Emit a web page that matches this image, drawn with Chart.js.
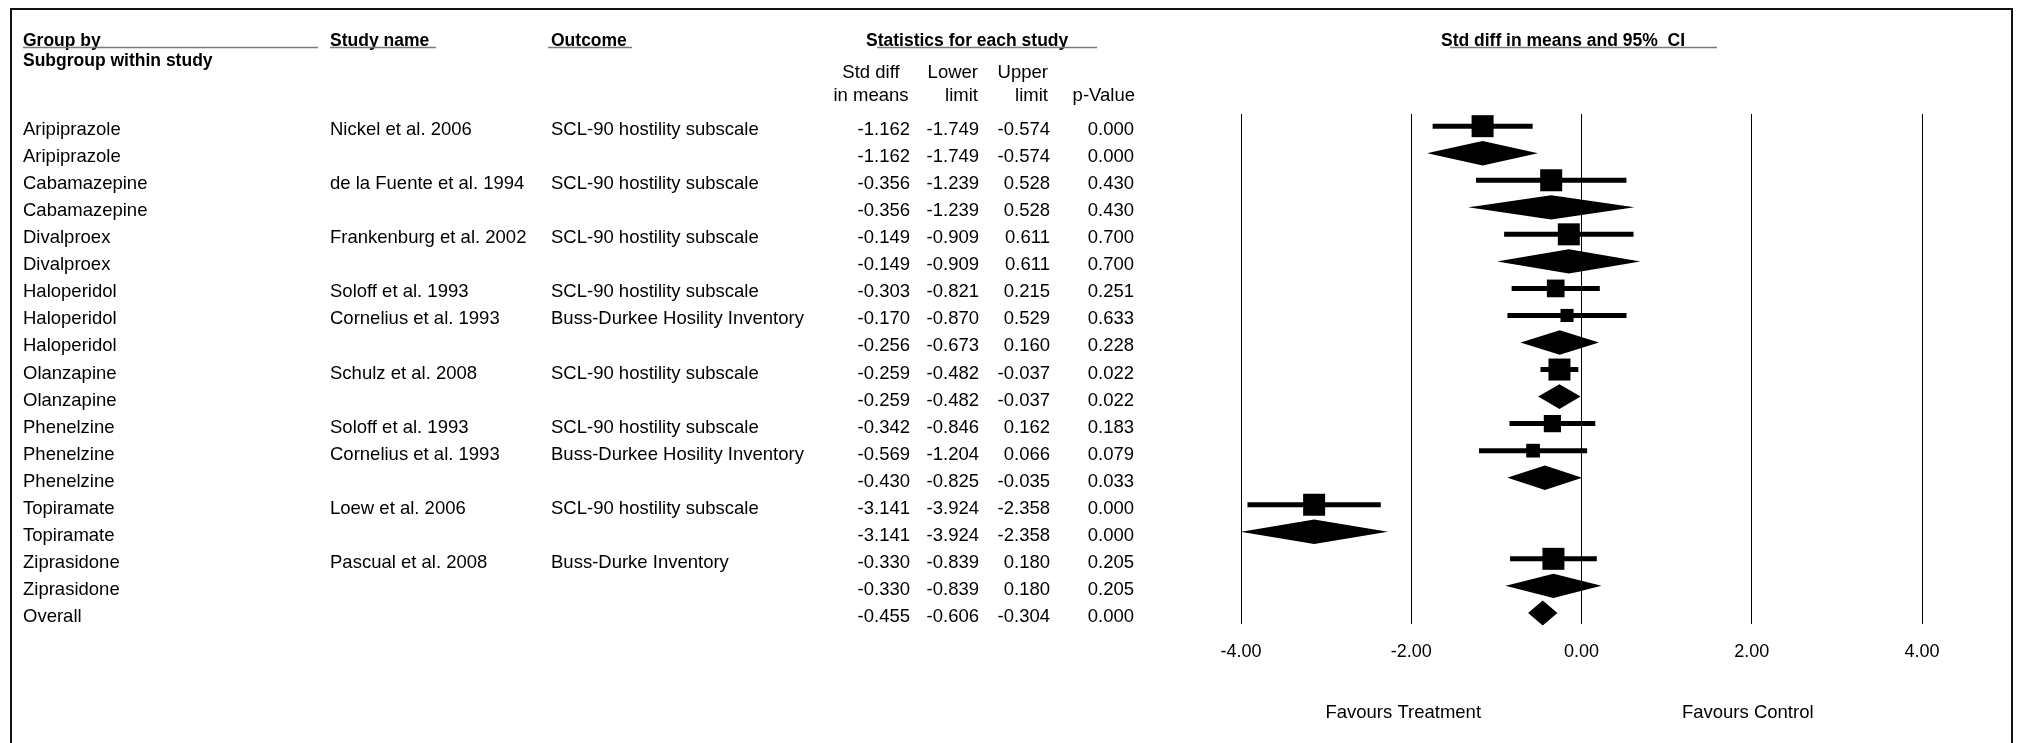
<!DOCTYPE html>
<html>
<head>
<meta charset="utf-8">
<script src="https://cdn.jsdelivr.net/npm/chart.js@4.4.1/dist/chart.umd.min.js"></script>
<style>
  html, body { margin: 0; padding: 0; background: #fff; }
  canvas { display: block; }
</style>
</head>
<body>
<canvas id="forest" width="2018" height="743"></canvas>
<script>
// one entry per row, top to bottom
const groupNames = ['Aripiprazole', 'Aripiprazole', 'Cabamazepine', 'Cabamazepine', 'Divalproex', 'Divalproex',
  'Haloperidol', 'Haloperidol', 'Haloperidol', 'Olanzapine', 'Olanzapine', 'Phenelzine', 'Phenelzine', 'Phenelzine',
  'Topiramate', 'Topiramate', 'Ziprasidone', 'Ziprasidone', 'Overall'];
const studyNames = ['Nickel et al. 2006', '', 'de la Fuente et al. 1994', '', 'Frankenburg et al. 2002', '',
  'Soloff et al. 1993', 'Cornelius et al. 1993', '', 'Schulz et al. 2008', '', 'Soloff et al. 1993', 'Cornelius et al. 1993', '',
  'Loew et al. 2006', '', 'Pascual et al. 2008', '', ''];
const outcomes = ['SCL-90 hostility subscale', '', 'SCL-90 hostility subscale', '', 'SCL-90 hostility subscale', '',
  'SCL-90 hostility subscale', 'Buss-Durkee Hosility Inventory', '', 'SCL-90 hostility subscale', '',
  'SCL-90 hostility subscale', 'Buss-Durkee Hosility Inventory', '', 'SCL-90 hostility subscale', '',
  'Buss-Durke Inventory', '', ''];
const effect = [-1.162, -1.162, -0.356, -0.356, -0.149, -0.149, -0.303, -0.170, -0.256, -0.259, -0.259,
  -0.342, -0.569, -0.430, -3.141, -3.141, -0.330, -0.330, -0.455];
const lower = [-1.749, -1.749, -1.239, -1.239, -0.909, -0.909, -0.821, -0.870, -0.673, -0.482, -0.482,
  -0.846, -1.204, -0.825, -3.924, -3.924, -0.839, -0.839, -0.606];
const upper = [-0.574, -0.574, 0.528, 0.528, 0.611, 0.611, 0.215, 0.529, 0.160, -0.037, -0.037,
  0.162, 0.066, -0.035, -2.358, -2.358, 0.180, 0.180, -0.304];
const pValues = [0.000, 0.000, 0.430, 0.430, 0.700, 0.700, 0.251, 0.633, 0.228, 0.022, 0.022,
  0.183, 0.079, 0.033, 0.000, 0.000, 0.205, 0.205, 0.000];
// relative weight within subgroup (%); null = summary row, drawn as a diamond
const weights = [100, null, 100, null, 100, null, 64.6, 35.4, null, 100, null, 61.3, 38.7, null, 100, null, 100, null, null];
const tickValues = [-4, -2, 0, 2, 4];

const FONT = "'Liberation Sans', Arial, sans-serif";
const MAX_SQUARE = 22; // px side of a 100% weight square
const DIAMOND_HALF = 11;

Chart.defaults.font.family = FONT;
Chart.defaults.color = '#000';

// CI line for every single study
const ciDatasets = [];
weights.forEach((w, i) => {
  if (w === null) return;
  ciDatasets.push({
    data: [{ x: lower[i], y: i }, { x: upper[i], y: i }],
    showLine: true,
    borderColor: '#000',
    borderWidth: 5,
    borderCapStyle: 'butt',
    pointRadius: 0,
    clip: false,
  });
});

// weighted squares
const squarePoints = [];
weights.forEach((w, i) => {
  if (w !== null) squarePoints.push({ x: effect[i], y: i, w: w });
});
const squareDataset = {
  data: squarePoints,
  pointStyle: 'rect',
  pointRadius: (c) => (MAX_SQUARE * Math.sqrt(c.raw.w / 100)) / Math.SQRT2,
  backgroundColor: '#000',
  borderWidth: 0,
  clip: false,
};

// summary diamonds
const diamondPlugin = {
  id: 'diamonds',
  afterDatasetsDraw(chart) {
    const { ctx } = chart;
    const xs = chart.scales.x;
    const ys = chart.scales.y;
    ctx.save();
    ctx.fillStyle = '#000';
    ctx.strokeStyle = '#000';
    ctx.lineWidth = 2.3;
    ctx.lineJoin = 'miter';
    ctx.miterLimit = 10;
    weights.forEach((w, i) => {
      if (w !== null) return;
      const py = ys.getPixelForValue(i);
      const xl = xs.getPixelForValue(lower[i]);
      const xm = xs.getPixelForValue(effect[i]);
      const xu = xs.getPixelForValue(upper[i]);
      ctx.beginPath();
      ctx.moveTo(xl, py);
      ctx.lineTo(xm, py - DIAMOND_HALF);
      ctx.lineTo(xu, py);
      ctx.lineTo(xm, py + DIAMOND_HALF);
      ctx.closePath();
      ctx.fill();
      ctx.stroke();
    });
    ctx.restore();
  },
};

function underline(ctx, x1, x2, y) {
  ctx.save();
  ctx.strokeStyle = '#7a7a7a';
  ctx.lineWidth = 1.6;
  ctx.beginPath();
  ctx.moveTo(x1, y);
  ctx.lineTo(x2, y);
  ctx.stroke();
  ctx.restore();
}

// frame, headers and the table columns
const tablePlugin = {
  id: 'table',
  afterDraw(chart) {
    const { ctx } = chart;
    const xs = chart.scales.x;
    const ys = chart.scales.y;
    ctx.save();

    // outer frame (open at the bottom)
    ctx.strokeStyle = '#111';
    ctx.lineWidth = 2;
    ctx.beginPath();
    ctx.moveTo(11, 743);
    ctx.lineTo(11, 9);
    ctx.lineTo(2012, 9);
    ctx.lineTo(2012, 743);
    ctx.stroke();

    ctx.fillStyle = '#000';
    ctx.textBaseline = 'alphabetic';

    // bold headers
    ctx.font = 'bold 17.5px ' + FONT;
    ctx.textAlign = 'left';
    ctx.fillText('Group by', 23, 46);
    ctx.fillText('Subgroup within study', 23, 66);
    ctx.fillText('Study name', 330, 46);
    ctx.fillText('Outcome', 551, 46);
    ctx.fillText('Statistics for each study', 866, 46);
    ctx.fillText('Std diff in means and 95%  CI', 1441, 46);
    underline(ctx, 23, 318, 47.5);
    underline(ctx, 330, 436, 47.5);
    underline(ctx, 548, 632, 47.5);
    underline(ctx, 877, 1097, 47.5);
    underline(ctx, 1450, 1717, 47.5);

    // statistics column headers
    ctx.font = '18.5px ' + FONT;
    ctx.textAlign = 'center';
    ctx.fillText('Std diff', 871, 78);
    ctx.fillText('in means', 871, 101);
    ctx.textAlign = 'right';
    ctx.fillText('Lower', 978, 78);
    ctx.fillText('limit', 978, 101);
    ctx.fillText('Upper', 1048, 78);
    ctx.fillText('limit', 1048, 101);
    ctx.fillText('p-Value', 1135, 101);

    // rows
    groupNames.forEach((g, i) => {
      const py = ys.getPixelForValue(i) + 9;
      ctx.textAlign = 'left';
      ctx.fillText(g, 23, py);
      ctx.fillText(studyNames[i], 330, py);
      ctx.fillText(outcomes[i], 551, py);
      ctx.textAlign = 'right';
      ctx.fillText(effect[i].toFixed(3), 910, py);
      ctx.fillText(lower[i].toFixed(3), 979, py);
      ctx.fillText(upper[i].toFixed(3), 1050, py);
      ctx.fillText(pValues[i].toFixed(3), 1134, py);
    });

    // favours labels under the axis
    ctx.textAlign = 'center';
    ctx.fillText('Favours Treatment', xs.getPixelForValue(-2) - 8, 718);
    ctx.fillText('Favours Control', xs.getPixelForValue(2) - 4, 718);

    ctx.restore();
  },
};

new Chart(document.getElementById('forest'), {
  type: 'scatter',
  data: { datasets: [...ciDatasets, squareDataset] },
  options: {
    responsive: false,
    animation: false,
    devicePixelRatio: 1,
    events: [],
    layout: { padding: { top: 114, left: 1241, right: 96, bottom: 0 } },
    plugins: { legend: { display: false }, tooltip: { enabled: false } },
    scales: {
      x: {
        type: 'linear',
        min: -4,
        max: 4,
        afterBuildTicks: (s) => { s.ticks = tickValues.map((v) => ({ value: v })); },
        afterFit: (s) => { s.height = 119; },
        border: { display: false },
        grid: { color: '#000', lineWidth: 1, drawTicks: false },
        ticks: {
          padding: 17,
          color: '#000',
          autoSkip: false,
          maxRotation: 0,
          font: { size: 18, family: FONT },
          callback: (v) => Number(v).toFixed(2),
        },
      },
      y: { type: 'linear', display: false, reverse: true, min: -0.45, max: 18.41 },
    },
  },
  plugins: [diamondPlugin, tablePlugin],
});
</script>
</body>
</html>
